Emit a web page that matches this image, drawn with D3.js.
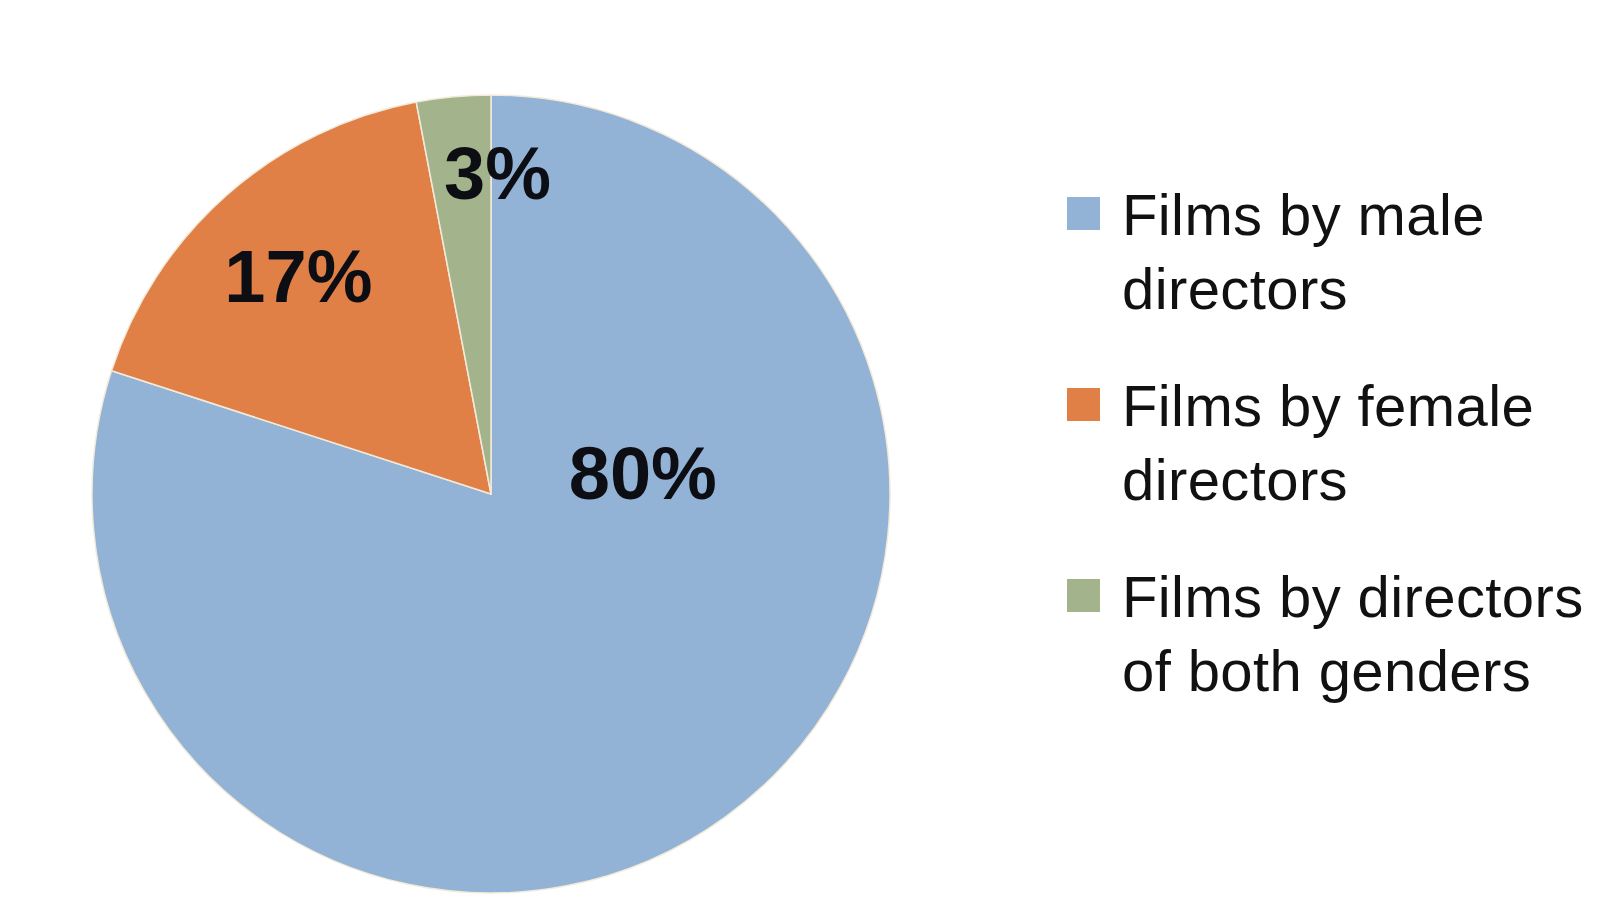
<!DOCTYPE html>
<html>
<head>
<meta charset="utf-8">
<script src="https://cdn.jsdelivr.net/npm/d3@7"></script>
<style>
  html, body { margin: 0; padding: 0; background: #ffffff; }
  svg { display: block; }
</style>
</head>
<body>
<svg id="chart" width="1600" height="900"></svg>
<script>
// ---- data ----
const categories = ["Films by male directors", "Films by female directors", "Films by directors of both genders"];
const values = [80, 17, 3];
const legendLines = [["Films by male", "directors"], ["Films by female", "directors"], ["Films by directors", "of both genders"]];
const colors = ["#93B3D6", "#E08046", "#A3B48C"];

// ---- layout ----
const W = 1600, H = 900;
const cx = 491, cy = 494, R = 399;
const labelRadiusFrac = [0.40, 0.73, 0.81];
const labelNudge = [[58, -151], [0, 0], [37, 0]];

const svg = d3.select("#chart");
const data = categories.map((c, i) => ({ name: c, value: values[i], color: colors[i] }));

const pie = d3.pie().sort(null).value(d => d.value);
const arcs = pie(data);
const arc = d3.arc().innerRadius(0).outerRadius(R);

const g = svg.append("g").attr("transform", `translate(${cx},${cy})`);

g.selectAll("path.slice")
  .data(arcs)
  .enter()
  .append("path")
  .attr("class", "slice")
  .attr("d", arc)
  .attr("fill", d => d.data.color)
  .attr("stroke", "#f3ead9")
  .attr("stroke-width", 1.5)
  .attr("stroke-linejoin", "round");

const total = d3.sum(values);
g.selectAll("text.pct")
  .data(arcs)
  .enter()
  .append("text")
  .attr("class", "pct")
  .attr("transform", (d, i) => {
    const la = d3.arc().innerRadius(R * labelRadiusFrac[i]).outerRadius(R * labelRadiusFrac[i]);
    const [x, y] = la.centroid(d);
    return `translate(${x + labelNudge[i][0]},${y + labelNudge[i][1]})`;
  })
  .attr("text-anchor", "middle")
  .attr("dy", "0.36em")
  .attr("font-family", "'Liberation Sans', Arial, sans-serif")
  .attr("font-weight", "bold")
  .attr("font-size", 74)
  .attr("fill", "#0d0d14")
  .text(d => Math.round(d.data.value / total * 100) + "%");

// ---- legend ----
const legendX = 1067, legendTextX = 1122;
const firstBaseline = 235, entryStep = 191, lineStep = 74, sq = 33;

const leg = svg.append("g").attr("class", "legend");
const items = leg.selectAll("g.item")
  .data(data)
  .enter()
  .append("g")
  .attr("class", "item")
  .attr("transform", (d, i) => `translate(0,${firstBaseline + i * entryStep})`);

items.append("rect")
  .attr("x", legendX)
  .attr("y", -38)
  .attr("width", sq)
  .attr("height", sq)
  .attr("fill", d => d.color);

items.each(function(d, i) {
  const t = d3.select(this).append("text")
    .attr("x", legendTextX)
    .attr("y", 0)
    .attr("font-family", "'Liberation Sans', Arial, sans-serif")
    .attr("font-size", 58)
    .attr("letter-spacing", 0.4)
    .attr("fill", "#111");
  legendLines[i].forEach((line, j) => {
    t.append("tspan")
      .attr("x", legendTextX)
      .attr("dy", j === 0 ? 0 : lineStep)
      .text(line);
  });
});
</script>
</body>
</html>
